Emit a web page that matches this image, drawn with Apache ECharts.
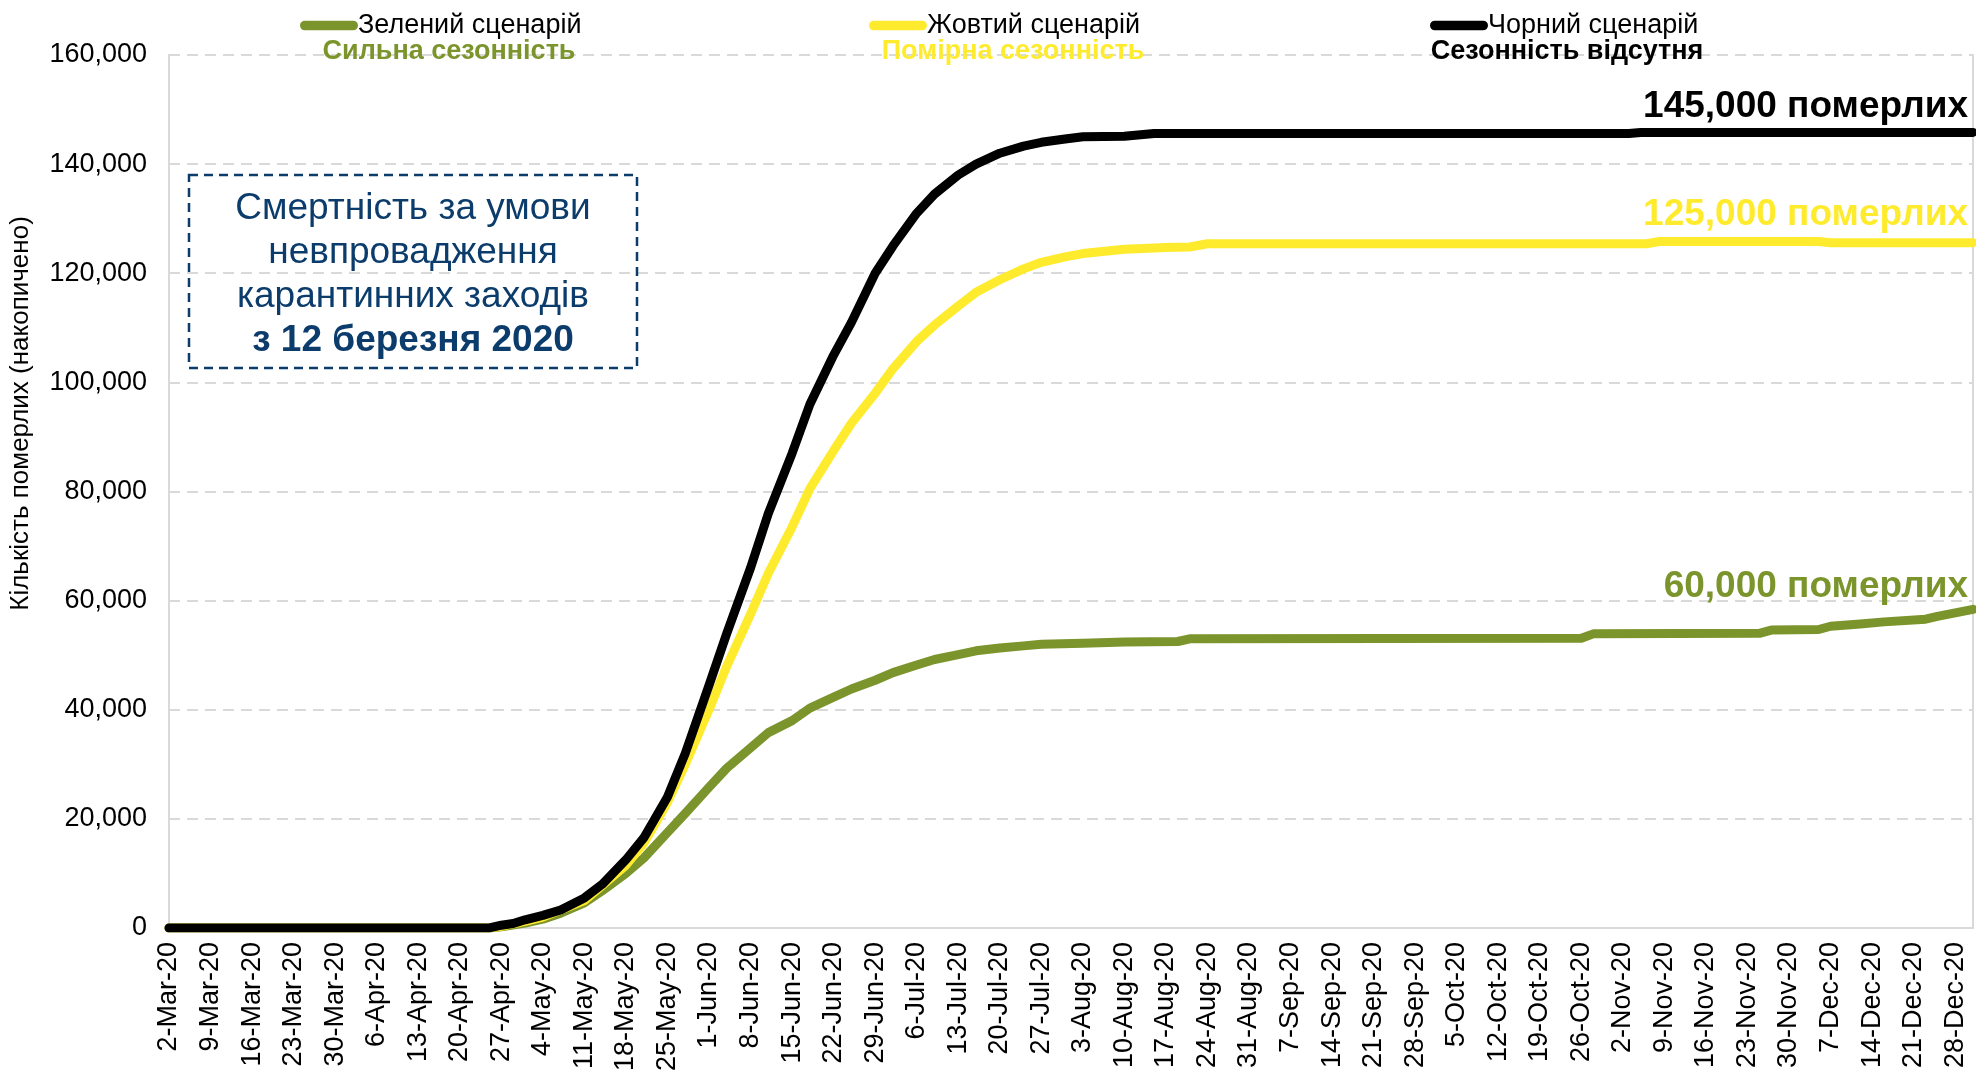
<!DOCTYPE html>
<html><head><meta charset="utf-8">
<script src="https://cdn.jsdelivr.net/npm/echarts@6/dist/echarts.min.js"></script>
<style>html,body{margin:0;padding:0;background:#fff}#c{width:1976px;height:1074px}</style>
</head><body><div id="c"></div>
<script>
// ---- categories (daily, 2-Mar-20 .. 31-Dec-20)
const monthNames = ['Jan','Feb','Mar','Apr','May','Jun','Jul','Aug','Sep','Oct','Nov','Dec'];
const categories = [];
for (let t = Date.UTC(2020,2,2); t <= Date.UTC(2020,11,31); t += 86400000) {
  const d = new Date(t);
  categories.push(d.getUTCDate() + '-' + monthNames[d.getUTCMonth()] + '-20');
}

// ---- series names / captions
const seriesNames = ['Зелений сценарій', 'Жовтий сценарій', 'Чорний сценарій'];
const seriesSubtitles = ['Сильна сезонність', 'Помірна сезонність', 'Сезонність відсутня'];
const endLabels = ['60,000 померлих', '125,000 померлих', '145,000 померлих'];
const boxLines = ['Смертність за умови', 'невпровадження', 'карантинних заходів', 'з 12 березня 2020'];

// ---- values
const greenDays = ['2-Mar-20','25-Apr-20','27-Apr-20','1-May-20','4-May-20','7-May-20','11-May-20','14-May-20','18-May-20','21-May-20','25-May-20','28-May-20','1-Jun-20','4-Jun-20','8-Jun-20','11-Jun-20','15-Jun-20','18-Jun-20','22-Jun-20','25-Jun-20','29-Jun-20','2-Jul-20','6-Jul-20','9-Jul-20','13-Jul-20','16-Jul-20','20-Jul-20','24-Jul-20','27-Jul-20','3-Aug-20','10-Aug-20','19-Aug-20','21-Aug-20','26-Oct-20','28-Oct-20','25-Nov-20','27-Nov-20','5-Dec-20','7-Dec-20','12-Dec-20','16-Dec-20','23-Dec-20','25-Dec-20','31-Dec-20'];
const greenValues = [0,0,200,900,1600,2700,4600,6800,10000,12800,17500,21000,25800,29300,33000,35800,38000,40300,42300,43800,45400,46800,48200,49200,50100,50800,51300,51700,52000,52200,52400,52500,53000,53100,53900,54000,54600,54700,55300,55700,56100,56600,57100,58400];

const yellowDays = ['2-Mar-20','25-Apr-20','27-Apr-20','1-May-20','4-May-20','11-May-20','18-May-20','21-May-20','25-May-20','28-May-20','1-Jun-20','4-Jun-20','8-Jun-20','11-Jun-20','15-Jun-20','18-Jun-20','22-Jun-20','25-Jun-20','29-Jun-20','2-Jul-20','6-Jul-20','9-Jul-20','13-Jul-20','16-Jul-20','20-Jul-20','24-Jul-20','27-Jul-20','31-Jul-20','3-Aug-20','10-Aug-20','17-Aug-20','21-Aug-20','24-Aug-20','6-Nov-20','8-Nov-20','5-Dec-20','7-Dec-20','31-Dec-20'];
const yellowValues = [0,0,300,1200,2000,5000,11500,15500,23000,30000,40000,48000,57500,65000,73500,80500,87500,92500,98000,102500,107500,110500,114000,116500,118800,120800,122000,123000,123600,124400,124700,124800,125400,125400,125800,125800,125600,125600];

const blackDays = ['2-Mar-20','25-Apr-20','27-Apr-20','29-Apr-20','1-May-20','4-May-20','7-May-20','11-May-20','14-May-20','18-May-20','21-May-20','25-May-20','28-May-20','1-Jun-20','4-Jun-20','8-Jun-20','11-Jun-20','15-Jun-20','18-Jun-20','22-Jun-20','25-Jun-20','29-Jun-20','2-Jul-20','6-Jul-20','9-Jul-20','13-Jul-20','16-Jul-20','20-Jul-20','24-Jul-20','27-Jul-20','31-Jul-20','3-Aug-20','10-Aug-20','15-Aug-20','3-Nov-20','5-Nov-20','31-Dec-20'];
const blackValues = [0,0,500,800,1500,2300,3300,5500,8000,12500,16500,24000,32000,44500,54000,66000,76000,87000,96000,105000,111000,120000,125000,131000,134500,138000,140000,142000,143300,144000,144600,145000,145100,145600,145600,145800,145800];

const yTicks = [0,20000,40000,60000,80000,100000,120000,140000,160000];
const colors = ['#7B952C', '#FFEB2E', '#000000'];

const FONT = "'Liberation Sans', Arial, sans-serif";
function toPairs(days, vals){ return days.map((d,i)=>[categories.indexOf(d), vals[i]]); }
const allDays = [greenDays, yellowDays, blackDays];
const allVals = [greenValues, yellowValues, blackValues];
const endOffsets = [[-5,-23],[-5,-28],[-5,-26]];

const chart = echarts.init(document.getElementById('c'), null, {renderer:'canvas'});

const series = seriesNames.map((n, i) => {
  const last = allDays[i].length - 1;
  return {
    name: n, type: 'line', data: toPairs(allDays[i], allVals[i]),
    showSymbol: false, symbol: 'none', smooth: false, z: 3 + i,
    lineStyle: {color: colors[i], width: 9, cap: 'round', join: 'round'},
    itemStyle: {color: colors[i]},
    markPoint: {
      symbol: 'circle', symbolSize: 1, itemStyle: {color: 'rgba(0,0,0,0)'},
      data: [{coord: [categories.indexOf(allDays[i][last]), allVals[i][last]]}],
      label: {show: true, formatter: endLabels[i], position: 'inside', align: 'right', verticalAlign: 'middle',
        offset: endOffsets[i], fontFamily: FONT, fontWeight: 'bold', fontSize: 37, color: colors[i]}
    }
  };
});

const legendLefts = [295, 864, 1425];
const subtitleCenters = [449, 1013, 1567];
const pill = 'path://M5,0 L55,0 A5,5 0 0 1 55,10 L5,10 A5,5 0 0 1 5,0 Z';

const option = {
  backgroundColor: '#fff',
  animation: false,
  grid: {left: 160, right: 3, top: 55, bottom: 136, containLabel: false},
  legend: seriesNames.map((n, i) => ({
    data: [n], left: legendLefts[i], top: 7, icon: pill, itemWidth: 58, itemHeight: 10,
    itemGap: 0, padding: 5,
    textStyle: {fontFamily: FONT, fontSize: 27, color: '#000', padding: [0,0,0,-5]}
  })),
  xAxis: {
    type: 'category', data: categories, boundaryGap: false,
    axisLine: {show: true, lineStyle: {color: '#d9d9d9', width: 2}},
    axisTick: {show: false},
    axisLabel: {interval: 6, rotate: 90, margin: 14, fontFamily: FONT, fontSize: 27, color: '#000'},
    splitLine: {show: false}
  },
  yAxis: [{
    type: 'value', min: 0, max: 160000, interval: 20000,
    name: 'Кількість померлих (накопичено)', nameLocation: 'middle', nameGap: 135,
    nameTextStyle: {fontFamily: FONT, fontSize: 26, color: '#000', padding: [0,0,0,156]},
    axisLine: {show: true, lineStyle: {color: '#d9d9d9', width: 2}},
    axisTick: {show: false},
    axisLabel: {margin: 22, fontFamily: FONT, fontSize: 27, color: '#000',
      formatter: v => yTicks.includes(v) ? v.toLocaleString('en-US') : ''},
    splitLine: {show: true, lineStyle: {color: '#d9d9d9', width: 2, type: [11, 7]}}
  }, {
    type: 'value', min: 0, max: 160000, interval: 20000, position: 'right',
    axisLine: {show: true, lineStyle: {color: '#d9d9d9', width: 2}},
    axisTick: {show: false}, axisLabel: {show: false}, splitLine: {show: false}
  }],
  series: series,
  graphic: [
    ...seriesSubtitles.map((s, i) => ({
      type: 'text', z: 10, x: subtitleCenters[i], y: 52,
      style: {text: s, textAlign: 'center', textVerticalAlign: 'middle',
        fontFamily: FONT, fontWeight: 'bold', fontSize: 27, fill: colors[i]}
    })),
    {
      type: 'rect', z: 10,
      shape: {x: 189, y: 175, width: 448, height: 193},
      style: {fill: 'none', stroke: '#0B3C6B', lineWidth: 2.5, lineDash: [9, 6]}
    },
    ...boxLines.map((t, i) => ({
      type: 'text', z: 10, x: 413, y: 209 + i * 44,
      style: {text: t, textAlign: 'center', textVerticalAlign: 'middle',
        fontFamily: FONT, fontSize: 37, fontWeight: i === 3 ? 'bold' : 'normal', fill: '#0B3C6B'}
    }))
  ]
};
chart.setOption(option);
</script>
</body></html>
